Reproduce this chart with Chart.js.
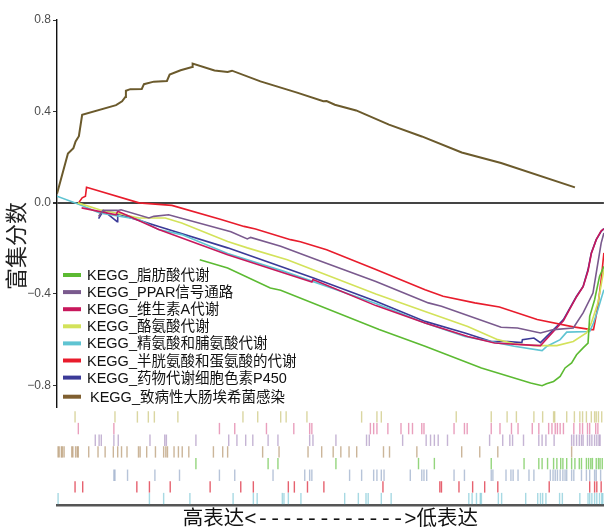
<!DOCTYPE html>
<html>
<head>
<meta charset="utf-8">
<script src="https://cdn.jsdelivr.net/npm/chart.js@4.4.1/dist/chart.umd.min.js"></script>
<style>
  html, body { margin: 0; padding: 0; background: #fff; }
</style>
</head>
<body>
<canvas id="gseaChart" width="611" height="530"></canvas>
<script>
// gene sets, in legend order
var categories = ['KEGG_脂肪酸代谢', 'KEGG_PPAR信号通路', 'KEGG_维生素A代谢', 'KEGG_酪氨酸代谢',
  'KEGG_精氨酸和脯氨酸代谢', 'KEGG_半胱氨酸和蛋氨酸的代谢', 'KEGG_药物代谢细胞色素P450', 'KEGG_致病性大肠埃希菌感染'];
var lineColors = ['#5cba32', '#7a5a8e', '#c8185c', '#d3e25a', '#5fc4d2', '#e81c2c', '#3b3a98', '#6b5a2c'];
var legendColors = ['#5cba32', '#7a5a8e', '#c8185c', '#d3e25a', '#5fc4d2', '#e81c2c', '#3b3a98', '#7f5f30'];

var yTicks = [0.8, 0.4, 0.0, -0.4, -0.8];
var yTitle = '富集分数';
var xTitle = '高表达<------------>低表达';

// running enrichment score: [rank position (% of ranked list), ES]
var esFattyAcid = [[26.1,-0.250],[31.2,-0.286],[39.0,-0.374],[40.9,-0.384],[58.9,-0.556],[67.3,-0.629],[77.6,-0.724],[86.6,-0.790],[88.7,-0.802],[89.5,-0.793],[90.8,-0.783],[92.0,-0.761],[92.9,-0.724],[94.1,-0.702],[95.0,-0.666],[96.2,-0.636],[97.1,-0.615],[97.4,-0.498],[98.3,-0.425],[99.2,-0.323],[100,-0.279]];
var esPPAR = [[7.6,-0.061],[8.4,-0.034],[11.1,-0.034],[11.7,-0.031],[16.8,-0.067],[17.7,-0.060],[20.4,-0.053],[31.8,-0.127],[34.8,-0.159],[35.4,-0.152],[40.9,-0.191],[47.5,-0.250],[58.3,-0.345],[67.9,-0.439],[70.3,-0.454],[81.2,-0.546],[84.2,-0.549],[88.4,-0.571],[90.8,-0.556],[94.4,-0.549],[96.2,-0.483],[98.0,-0.396],[98.7,-0.293],[99.5,-0.177],[100,-0.133]];
var esVitaminA = [[4.5,-0.023],[10.8,-0.053],[11.1,-0.038],[13.2,-0.060],[18.6,-0.118],[31.2,-0.228],[46.6,-0.348],[46.8,-0.337],[58.3,-0.451],[67.3,-0.527],[75.1,-0.586],[80.0,-0.615],[84.8,-0.622],[88.4,-0.626],[91.4,-0.548],[92.6,-0.517],[93.8,-0.464],[95.0,-0.412],[96.2,-0.368],[97.1,-0.298],[97.7,-0.223],[98.6,-0.162],[99.5,-0.123],[100,-0.115]];
var esTyrosine = [[3.8,-0.001],[7.8,-0.031],[10.8,-0.045],[15.0,-0.067],[19.8,-0.067],[22.8,-0.089],[31.2,-0.170],[34.8,-0.198],[42.1,-0.250],[58.3,-0.400],[67.3,-0.477],[75.1,-0.542],[80.6,-0.600],[83.6,-0.618],[87.2,-0.626],[91.4,-0.626],[94.4,-0.608],[96.8,-0.571],[97.7,-0.527],[98.9,-0.440],[100,-0.293]];
var esArginine = [[0,0.028],[4.2,-0.009],[7.8,-0.045],[15.0,-0.074],[18.6,-0.118],[22.8,-0.140],[31.2,-0.223],[41.5,-0.301],[58.3,-0.442],[67.3,-0.527],[74.6,-0.586],[77.6,-0.600],[83.6,-0.629],[88.7,-0.648],[89.6,-0.629],[92.0,-0.600],[93.2,-0.567],[97.4,-0.564],[98.1,-0.527],[98.9,-0.469],[100,-0.381]];
var esCysteine = [[4.0,0.001],[4.6,0.021],[5.2,0.028],[5.4,0.067],[15.0,-0.001],[21.0,-0.012],[30.0,-0.074],[34.2,-0.104],[36.3,-0.115],[42.7,-0.162],[44.5,-0.171],[49.3,-0.206],[58.3,-0.293],[67.3,-0.381],[70.6,-0.410],[76.4,-0.439],[80.9,-0.457],[87.8,-0.512],[94.4,-0.544],[97.7,-0.556],[98.1,-0.556],[98.9,-0.454],[99.5,-0.337],[100,-0.220]];
var esDrugP450 = [[7.6,-0.070],[8.5,-0.035],[11.0,-0.083],[11.1,-0.048],[15.6,-0.082],[18.6,-0.104],[31.2,-0.198],[46.9,-0.330],[58.3,-0.432],[67.3,-0.520],[74.6,-0.571],[79.4,-0.608],[82.4,-0.608],[85.0,-0.613],[85.1,-0.600],[87.2,-0.593],[88.4,-0.613],[91.4,-0.542],[92.6,-0.512],[93.8,-0.461],[95.0,-0.410],[96.2,-0.367],[97.1,-0.293],[97.7,-0.220],[98.6,-0.162],[99.5,-0.126],[100,-0.114]];
var esEcoli = [[0,0.039],[2.0,0.215],[3.0,0.239],[3.4,0.268],[4.0,0.291],[4.6,0.385],[10.8,0.427],[11.9,0.444],[12.5,0.463],[12.6,0.490],[13.4,0.497],[15.5,0.498],[15.9,0.519],[17.7,0.530],[20.1,0.533],[20.6,0.561],[22.6,0.580],[24.7,0.594],[24.8,0.609],[28.8,0.579],[31.2,0.572],[32.0,0.578],[37.2,0.531],[43.9,0.482],[48.7,0.444],[49.3,0.445],[50.8,0.429],[54.7,0.404],[60.7,0.342],[66.7,0.290],[74.0,0.220],[81.2,0.174],[94.7,0.067]];
var esSeries = [esFattyAcid, esPPAR, esVitaminA, esTyrosine, esArginine, esCysteine, esDrugP450, esEcoli];

// hit positions of each gene set in the ranked list (%)
var hitsFattyAcid = [25.4,38.6,40.4,51.0,66.1,69.0,79.4,85.4,88.1,88.7,89.7,90.8,91.4,92.1,92.5,93.2,94.1,94.7,95.5,95.9,96.8,97.2,97.6,97.9,98.6,99.0,99.3,99.7];
var hitsPPAR = [7.0,7.7,8.1,10.4,11.2,17.0,19.7,20.0,25.4,31.4,32.9,34.5,35.8,38.6,40.4,46.2,46.8,51.0,56.6,57.1,63.2,67.5,68.3,69.0,69.7,71.4,79.1,81.5,82.8,83.3,85.3,88.1,88.7,89.4,90.9,94.1,94.5,95.0,95.5,95.9,96.2,97.0,97.4,97.8,98.3,98.7,99.1,99.3];
var hitsVitaminA = [3.9,10.4,29.7,32.5,38.3,43.3,46.2,46.6,57.3,57.9,58.5,60.5,62.9,64.3,65.0,66.7,67.1,72.6,74.5,75.0,79.4,81.0,83.1,84.3,86.9,88.1,89.9,90.5,91.1,91.5,92.0,92.6,94.5,95.6,96.1,97.0,97.4,98.5,98.9];
var hitsTyrosine = [3.3,10.6,14.7,16.7,17.8,22.1,34.0,36.7,40.9,41.9,45.7,55.7,58.5,59.3,73.0,79.4,82.3,84.0,87.2,88.8,90.8,91.0,93.2,94.6,95.6,96.1,96.8,97.7,98.3,98.6,99.0,99.6];
var hitsArginine = [0.2,16.9,19.5,24.3,32.2,35.9,36.6,41.2,41.5,42.3,44.6,52.6,55.1,56.5,56.9,59.3,61.1,75.3,75.9,76.7,77.4,77.6,80.7,81.3,85.7,87.9,88.4,88.8,89.4,91.9,92.4,95.6,97.1,97.4,97.8,98.3,98.7,99.2,99.6,99.8];
var hitsCysteine = [3.3,4.7,14.6,16.9,20.7,28.0,33.6,35.9,42.3,43.4,45.8,48.8,59.6,70.0,70.3,73.5,76.0,78.2,80.6,90.0,97.4,98.3,98.7,99.5];
var hitsDrugP450 = [10.4,10.6,12.9,17.9,22.4,29.7,32.5,39.5,45.3,46.2,46.6,53.5,55.7,57.9,58.5,59.3,59.8,64.6,66.7,67.1,67.6,72.6,74.5,79.4,79.7,82.1,83.0,83.4,84.3,86.3,87.2,90.2,90.7,91.1,91.5,92.0,92.5,92.9,93.2,94.1,94.5,95.9,96.8,97.4,98.3,98.6,99.4];
var hitsEcoli = [0.2,0.4,0.8,1.0,1.3,2.7,2.9,3.4,3.7,3.9,5.8,7.5,8.8,10.3,11.1,11.8,12.8,14.9,15.2,16.4,18.0,19.5,19.9,20.2,21.4,22.2,22.9,24.1,28.6,30.3,31.2,37.6,40.6,45.9,48.4,50.5,51.9,53.4,54.8,59.7,60.8,65.8,74.0,77.3,80.6,94.1];
var hitSeries = [hitsFattyAcid, hitsPPAR, hitsVitaminA, hitsTyrosine, hitsArginine, hitsCysteine, hitsDrugP450, hitsEcoli];
// rug row of each gene set, counted from the bottom
var rugRow = [3, 5, 6, 7, 0, 1, 2, 4];
var rugColors = ['rgba(90,190,55,0.65)', 'rgba(140,105,170,0.5)', 'rgba(215,80,135,0.55)', 'rgba(205,200,130,0.75)',
  'rgba(80,180,200,0.5)', 'rgba(220,30,50,0.7)', 'rgba(95,125,170,0.45)', 'rgba(160,120,70,0.55)'];

var datasets = [];
esSeries.forEach(function (s, i) {
  datasets.push({
    type: 'line',
    label: categories[i],
    data: s.map(function (p) { return { x: p[0], y: p[1] }; }),
    borderColor: lineColors[i],
    borderWidth: i === 7 ? 2 : 1.6,
    pointRadius: 0,
    tension: 0,
    fill: false,
    yAxisID: 'y'
  });
});
hitSeries.forEach(function (s, i) {
  datasets.push({
    type: 'scatter',
    label: categories[i] + ' hits',
    data: s.map(function (r) { return { x: r, y: rugRow[i] + 0.55 }; }),
    pointStyle: 'line',
    rotation: 90,
    pointRadius: 5.7,
    borderColor: rugColors[i],
    backgroundColor: rugColors[i],
    borderWidth: 1.4,
    yAxisID: 'y2'
  });
});

var overlayText = {
  id: 'overlayText',
  afterDraw: function (chart) {
    var ctx = chart.ctx;
    ctx.save();
    ctx.translate(16, 246);
    ctx.rotate(-Math.PI / 2);
    ctx.font = '22px "Noto Sans CJK SC"';
    ctx.fillStyle = '#222';
    ctx.textAlign = 'center';
    ctx.textBaseline = 'middle';
    ctx.fillText(yTitle, 0, 0);
    ctx.restore();

    ctx.save();
    ctx.font = '14.5px "Liberation Sans", "Noto Sans CJK SC"';
    ctx.textBaseline = 'middle';
    ctx.textAlign = 'left';
    categories.forEach(function (name, i) {
      var y = 275 + i * 17.1 + (i === 7 ? 2 : 0);
      ctx.strokeStyle = legendColors[i];
      ctx.lineWidth = 4;
      ctx.beginPath();
      ctx.moveTo(63, y);
      ctx.lineTo(81, y);
      ctx.stroke();
      ctx.fillStyle = '#111';
      ctx.fillText(name, i === 7 ? 90 : 87, y + 1);
    });
    ctx.restore();
  }
};

new Chart(document.getElementById('gseaChart').getContext('2d'), {
  data: { datasets: datasets },
  options: {
    responsive: false,
    animation: false,
    layout: { padding: { top: 20, right: 0, bottom: 0, left: 0 } },
    plugins: {
      legend: { display: false },
      tooltip: { enabled: false }
    },
    scales: {
      x: {
        type: 'linear',
        min: 0,
        max: 100,
        ticks: { display: false },
        grid: { display: false },
        border: { display: true, color: '#555', width: 2.5 },
        title: {
          display: true,
          text: xTitle,
          color: '#111',
          font: { family: '"Liberation Mono", "Noto Sans CJK SC"', size: 20.5, lineHeight: 1 },
          padding: 0
        },
        afterFit: function (scale) { scale.height = 25; }
      },
      y2: {
        type: 'linear',
        position: 'left',
        stack: 'gsea',
        stackWeight: 98,
        min: 0,
        max: 8.4,
        ticks: { display: false },
        grid: { display: false },
        border: { display: false },
        afterFit: function (scale) { scale.width = 57; }
      },
      y: {
        type: 'linear',
        position: 'left',
        stack: 'gsea',
        stackWeight: 387,
        min: -0.895,
        max: 0.8,
        afterBuildTicks: function (scale) {
          scale.ticks = yTicks.map(function (v) { return { value: v }; });
        },
        ticks: {
          color: '#4d4d4d',
          font: { family: '"Liberation Sans"', size: 12 },
          padding: 2,
          callback: function (v) { return (v < 0 ? '\u2212' : '') + Math.abs(v).toFixed(1); }
        },
        grid: {
          drawTicks: true,
          tickLength: 4,
          tickColor: '#333',
          color: function (c) { return c.tick && c.tick.value === 0 ? '#444' : 'rgba(0,0,0,0)'; },
          lineWidth: function (c) { return c.tick && c.tick.value === 0 ? 2 : 1; }
        },
        border: { display: true, color: '#111', width: 1.4 },
        afterFit: function (scale) { scale.width = 57; }
      }
    }
  },
  plugins: [overlayText]
});
</script>
</body>
</html>
